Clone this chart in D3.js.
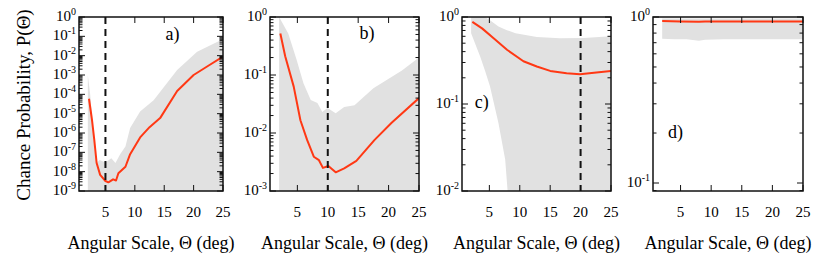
<!DOCTYPE html>
<html>
<head>
<meta charset="utf-8">
<script src="https://cdn.jsdelivr.net/npm/d3@7"></script>
<style>
  body { margin: 0; background: #fff; }
  svg { display: block; font-family: "Liberation Serif", "Times New Roman", Times, serif; }
</style>
</head>
<body>
<svg id="chart" width="817" height="262"></svg>
<script>
// ---- data ----
// panel a
const thetaA = [2.2, 2.7, 3.1, 3.5, 4.1, 5.0, 5.5, 6.3, 6.8, 7.2, 8.4, 9.2, 10.9, 12.5, 14.3, 17.2, 20.0, 22.5, 25];
const probA  = [5.9e-5, 5e-6, 4.4e-7, 2.8e-8, 6.8e-9, 3.3e-9, 2.8e-9, 4e-9, 3.5e-9, 8.3e-9, 1.8e-8, 8e-8, 5.9e-7, 2e-6, 5.9e-6, 1.5e-4, 1e-3, 3e-3, 9e-3];
const bandThetaA = [2.0, 2.4, 2.8, 3.2, 3.6, 4.0, 5.0, 6.0, 6.7, 7.5, 8.4, 9.2, 10.9, 13.2, 17.2, 20.6, 24.6, 25];
const bandHiA    = [1e-3, 1e-4, 3e-6, 1e-7, 3e-8, 4e-8, 3e-8, 5e-8, 2.8e-8, 8e-8, 2e-7, 1.8e-6, 1.3e-5, 5e-5, 1.8e-3, 1.6e-2, 6.3e-2, 8e-2];
// panel b
const thetaB = [2.2, 3.0, 4.4, 5.5, 6.6, 7.7, 8.55, 9.2, 10.1, 11.3, 12.7, 14.7, 17.7, 20.5, 25];
const probB  = [0.52, 0.21, 0.063, 0.0166, 7.6e-3, 3.9e-3, 3.4e-3, 2.5e-3, 2.7e-3, 2.1e-3, 2.45e-3, 3.3e-3, 7.6e-3, 1.5e-2, 4e-2];
const bandThetaB = [2.0, 3.5, 4.9, 6.0, 7.2, 8.3, 9.1, 9.95, 11.3, 12.7, 14.4, 17.5, 22.2, 25];
const bandHiB    = [1.0, 0.52, 0.18, 0.072, 0.037, 0.033, 0.023, 0.027, 0.022, 0.028, 0.03, 0.059, 0.12, 0.2];
// panel c
const thetaC = [2.2, 3.8, 5.7, 7.9, 10.6, 12.8, 15, 17.7, 19.9, 22.6, 25];
const probC  = [0.88, 0.74, 0.57, 0.42, 0.31, 0.27, 0.24, 0.225, 0.22, 0.23, 0.24];
const bandThetaC = [2.0, 3.5, 4.3, 5.1, 6.5, 7.6, 8.0, 8.3, 9.3, 12.8, 16.6, 20.5, 25];
const bandHiC    = [1.0, 1.0, 1.0, 0.92, 0.78, 0.72, 0.70, 0.69, 0.65, 0.59, 0.57, 0.575, 0.6];
const bandLoC    = [0.65, 0.35, 0.24, 0.16, 0.06, 0.023, 0.01, 0.001, 0.001, 0.001, 0.001, 0.001, 0.001];
// panel d
const thetaD = [2.0, 5, 8, 9, 12, 16, 20, 25];
const probD  = [0.945, 0.94, 0.935, 0.94, 0.94, 0.94, 0.94, 0.94];
const bandThetaD = [2.0, 4, 6, 8, 9, 12, 16, 20, 25];
const bandHiD    = [0.98, 0.98, 0.98, 0.98, 0.98, 0.98, 0.98, 0.98, 0.98];
const bandLoD    = [0.74, 0.735, 0.735, 0.72, 0.73, 0.735, 0.735, 0.735, 0.735];

// x ticks, reference lines, panel tags
const xTicks = [5, 10, 15, 20, 25];
const refLines = [5, 10, 20, null];
const tags = ["a)", "b)", "c)", "d)"];
const tagPos = [[15.2, 0.065], [15.2, 0.42], [2.6, 0.09], [2.96, 0.187]];
const yDomains = [[1e-9, 1], [1e-3, 1], [1e-2, 1], [0.0895, 1]];

const panels = [
  {left: 79,  right: 223, theta: thetaA, prob: probA, bt: bandThetaA, hi: bandHiA, lo: null},
  {left: 270, right: 419, theta: thetaB, prob: probB, bt: bandThetaB, hi: bandHiB, lo: null},
  {left: 462, right: 611, theta: thetaC, prob: probC, bt: bandThetaC, hi: bandHiC, lo: bandLoC},
  {left: 653, right: 803, theta: thetaD, prob: probD, bt: bandThetaD, hi: bandHiD, lo: bandLoD}
];
const plotTop = 17, plotBottom = 191;

const svg = d3.select("#chart");
const defs = svg.append("defs");

panels.forEach(function(p, i) {
  const x = d3.scaleLinear().domain([0.5, 25]).range([p.left, p.right]);
  const y = d3.scaleLog().domain(yDomains[i]).range([plotBottom, plotTop]);
  const g = svg.append("g");

  defs.append("clipPath").attr("id", "clip" + i)
    .append("rect")
    .attr("x", p.left).attr("y", plotTop)
    .attr("width", p.right - p.left).attr("height", plotBottom - plotTop);

  const plot = g.append("g").attr("clip-path", "url(#clip" + i + ")");

  // grey band
  const band = p.bt.map((t, k) => ({t: t, hi: p.hi[k], lo: p.lo ? p.lo[k] : 1e-12}));
  plot.append("path")
    .datum(band)
    .attr("fill", "#e1e1e1")
    .attr("d", d3.area()
      .x(d => x(d.t))
      .y0(d => Math.min(y(d.lo), plotBottom + 50))
      .y1(d => y(d.hi)));

  // red curve
  plot.append("path")
    .datum(p.theta.map((t, k) => [t, p.prob[k]]))
    .attr("fill", "none")
    .attr("stroke", "#ff3814")
    .attr("stroke-width", 2)
    .attr("stroke-linejoin", "round")
    .attr("d", d3.line().x(d => x(d[0])).y(d => y(d[1])));

  // dashed reference line
  if (refLines[i] !== null) {
    g.append("line")
      .attr("x1", x(refLines[i])).attr("x2", x(refLines[i]))
      .attr("y1", plotTop).attr("y2", plotBottom)
      .attr("stroke", "#111")
      .attr("stroke-width", 2)
      .attr("stroke-dasharray", "7,5");
  }

  // ticks: x bottom & top (inward)
  xTicks.forEach(function(t) {
    g.append("line").attr("x1", x(t)).attr("x2", x(t))
      .attr("y1", plotBottom).attr("y2", plotBottom - 6).attr("stroke", "#111");
    g.append("line").attr("x1", x(t)).attr("x2", x(t))
      .attr("y1", plotTop).attr("y2", plotTop + 6).attr("stroke", "#111");
    g.append("text")
      .attr("x", x(t)).attr("y", 217)
      .attr("text-anchor", "middle")
      .attr("font-size", 15)
      .text(t);
  });

  // ticks: y log major + minor, left & right
  const [ymin, ymax] = yDomains[i];
  const e0 = Math.floor(Math.log10(ymin)), e1 = Math.round(Math.log10(ymax));
  for (let e = e0; e <= e1; e++) {
    for (let m = 1; m <= 9; m++) {
      const v = m * Math.pow(10, e);
      if (v < ymin * 0.999 || v > ymax * 1.001) continue;
      const len = m === 1 ? 6 : 3.5;
      const yy = y(v);
      g.append("line").attr("x1", p.left).attr("x2", p.left + len)
        .attr("y1", yy).attr("y2", yy).attr("stroke", "#111");
      g.append("line").attr("x1", p.right).attr("x2", p.right - len)
        .attr("y1", yy).attr("y2", yy).attr("stroke", "#111");
      if (m === 1) {
        const lab = g.append("text")
          .attr("x", p.left - 3).attr("y", yy + 4)
          .attr("text-anchor", "end")
          .attr("font-size", 15);
        lab.append("tspan").text("10");
        lab.append("tspan").attr("dy", -6).attr("font-size", 10).text(e);
      }
    }
  }

  // frame
  g.append("rect")
    .attr("x", p.left).attr("y", plotTop)
    .attr("width", p.right - p.left).attr("height", plotBottom - plotTop)
    .attr("fill", "none")
    .attr("stroke", "#111")
    .attr("stroke-width", 1.5);

  // panel tag
  g.append("text")
    .attr("x", x(tagPos[i][0])).attr("y", y(tagPos[i][1]))
    .attr("font-size", 18)
    .text(tags[i]);

  // x title
  g.append("text")
    .attr("x", (p.left + p.right) / 2).attr("y", 249)
    .attr("text-anchor", "middle")
    .attr("font-size", 18)
    .text("Angular Scale, Θ (deg)");
});

svg.append("text")
  .attr("transform", "translate(30,105) rotate(-90)")
  .attr("text-anchor", "middle")
  .attr("font-size", 19)
  .text("Chance Probability, P(Θ)");
</script>
</body>
</html>
